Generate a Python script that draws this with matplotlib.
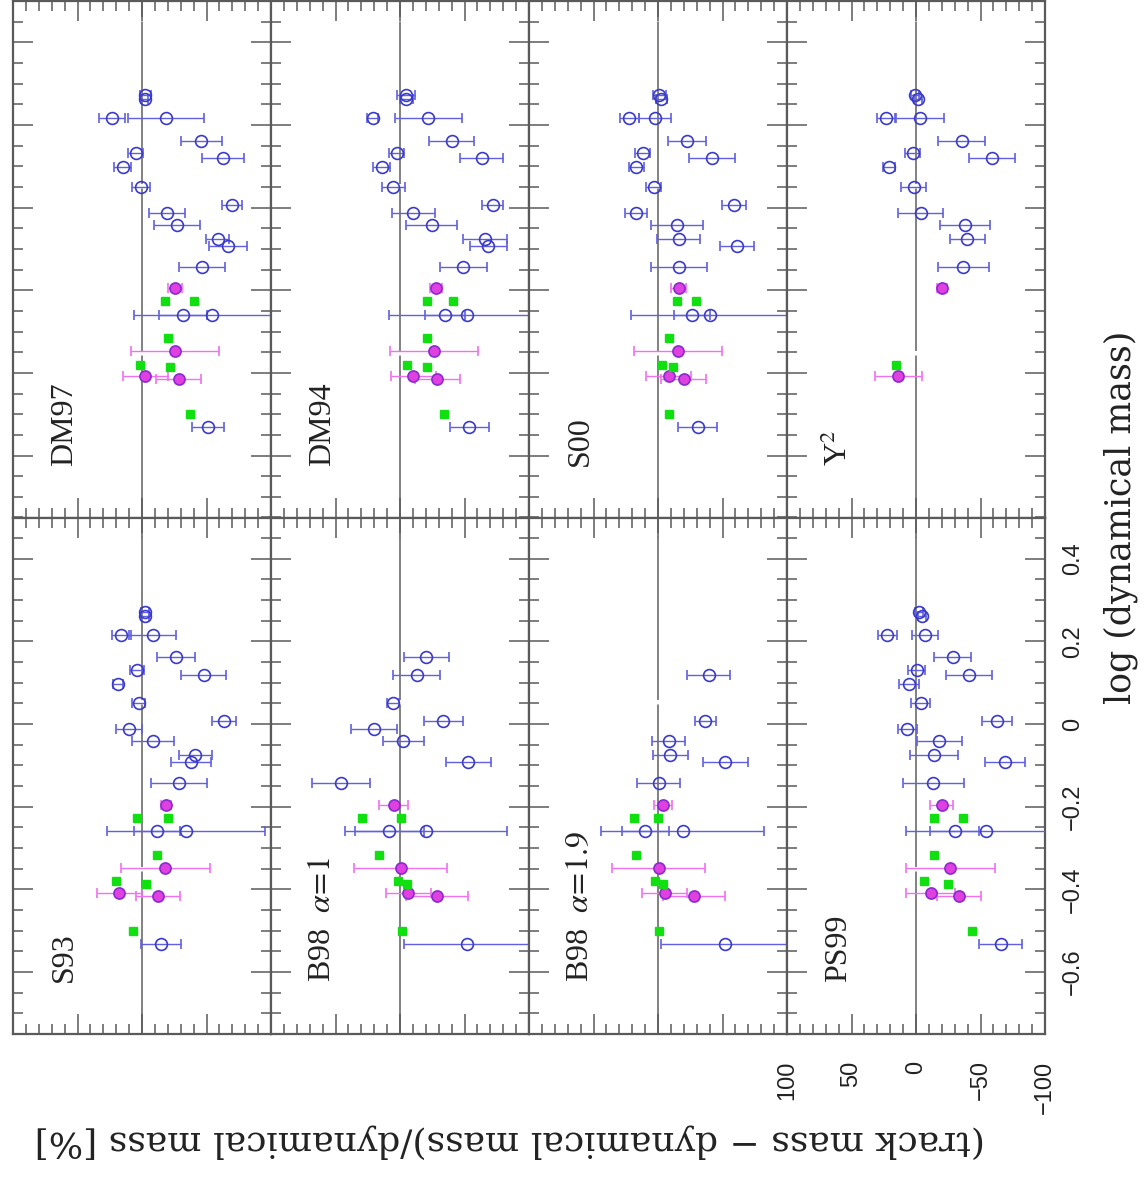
import numpy as np
import matplotlib
matplotlib.use("Agg")
import matplotlib.pyplot as plt
from matplotlib.ticker import MultipleLocator, FixedLocator, FuncFormatter

nan = np.nan

# log(dynamical mass) of the stars, shared by every panel
logm_blue = [0.272, 0.262, 0.216, 0.216, 0.162, 0.131, 0.120, 0.098, 0.050, 0.007,
             -0.013, -0.041, -0.075, -0.092, -0.143, -0.259, -0.259, -0.532]
logm_mag = [-0.195, -0.348, -0.408, -0.415]
logm_green = [-0.227, -0.227, -0.316, -0.380, -0.386, -0.500]

# (track - dynamical)/dynamical mass [%] per model
s93_blue = [-2.6, -2.6, 16.0, -8.3, -26.4, 3.9, -47.8, 18.6, 2.6, -63.3, 10.3, -8.3, -41.3, -38.2, -28.4, -11.6, -34.1, -14.7]
s93_blue_err = [3, 3, 7.1, 18.1, 14.6, 5.6, 17.4, 4, 5.2, 9.4, 10, 16.4, 13, 15.4, 21.6, 18.1, 61.4, 15.5]
s93_mag = [-18.6, -18.1, 17.6, -12.4]
s93_mag_err = [4, 34.5, 17.4, 17.4]
s93_green = [3.9, -20.2, -11.6, 20.2, -3.1, 7.2]

b98a_blue = [nan, nan, nan, nan, -20.2, nan, -12.9, nan, 5.2, -33.6, 20.2, -2.6, nan, -53.0, 46.0, 8.3, -20.2, -51.7]
b98a_blue_err = [nan, nan, nan, nan, 17.4, nan, 18.4, nan, 4.7, 15.2, 17.7, 15.8, nan, 17.3, 22.4, 26.6, 62.7, 48.6]
b98a_mag = [4.7, -0.5, -6.5, -28.4]
b98a_mag_err = [11.2, 35.8, 17.3, 24]
b98a_green = [29.7, -0.5, 16.0, 1.3, -5.7, -1.3]

b98b_blue = [nan, nan, nan, nan, nan, nan, -39.3, nan, nan, -36.7, nan, -8.3, -9.6, -52.2, -0.5, 9.8, -19.1, -51.7]
b98b_blue_err = [nan, nan, nan, nan, nan, nan, 16.8, nan, nan, 8.4, nan, 12.9, 13.3, 17.6, 16.8, 18.1, 63.2, 49]
b98b_mag = [-3.6, -0.5, -5.2, -28.2]
b98b_mag_err = [7, 36.2, 17.6, 24]
b98b_green = [18.9, 0.3, 17.0, 2.0, -3.9, -0.5]

ps99_blue = [-2.6, -4.4, 22.2, -7.0, -28.4, -0.5, -41.3, 5.4, -3.6, -62.5, 6.7, -18.1, -14.0, -69.0, -13.4, -30.2, -54.3, -65.6]
ps99_blue_err = [3, 3, 7.6, 10.3, 14.5, 6.5, 17.7, 7.4, 7.4, 11.6, 7.5, 17.7, 18.7, 15.5, 23.8, 19, 62, 16.5]
ps99_mag = [-19.9, -26.4, -11.4, -33.3]
ps99_mag_err = [8.8, 34.5, 19, 17]
ps99_green = [-14.2, -36.7, -14.2, -6.5, -25.0, -43.2]

dm97_blue = [-2.6, -2.0, 23.3, -18.6, -46.0, 4.7, -62.8, 15.0, 0.5, -69.8, -19.4, -27.1, -58.7, -66.7, -46.5, -31.5, -54.3, -51.2]
dm97_blue_err = [4, 3, 10, 29.3, 16, 5.8, 16.4, 6.7, 7, 7.8, 13.8, 18, 9, 14.9, 18, 18.6, 60.7, 12.5]
dm97_mag = [-25.8, -25.3, -2.6, -28.4]
dm97_mag_err = [5.4, 34.1, 17.3, 17.2]
dm97_green = [-18.1, -40.0, -20.2, 1.3, -22.0, -37.5]

dm94_blue = [-4.7, -4.7, 21.2, -22.0, -40.0, 2.6, -63.3, 14.2, 5.2, -71.8, -10.3, -24.5, -65.9, -68.5, -49.1, -34.9, -52.2, -53.7]
dm94_blue_err = [7, 5, 4, 25.8, 17.3, 6, 16.8, 6.8, 9, 8, 16.8, 20, 16.8, 14.5, 18.3, 15.5, 61, 15.2]
dm94_mag = [-27.9, -26.4, -10.3, -28.9]
dm94_mag_err = [4.5, 34.2, 17.6, 17.6]
dm94_green = [-21.2, -41.3, -21.2, -5.7, -20.7, -34.1]

s00_blue = [-1.0, -2.6, 22.2, 2.6, -22.5, 11.9, -41.9, 17.0, 3.4, -59.2, 17.0, -14.7, -16.0, -61.2, -16.0, -26.4, -40.0, -30.7]
s00_blue_err = [5, 4, 7.5, 12.5, 14.5, 5.8, 18, 5.8, 6, 9.3, 8.4, 20.3, 16.7, 13.2, 21.6, 14.2, 61, 15.1]
s00_mag = [-16.0, -15.2, -8.3, -19.9]
s00_mag_err = [5.7, 34.1, 17.6, 17.3]
s00_green = [-14.7, -29.7, -8.3, -3.1, -11.4, -8.8]

y2_blue = [0.8, -1.8, 23.3, -3.1, -35.4, 2.6, -58.7, 20.7, 1.6, nan, -3.6, -38.0, -39.8, nan, -36.7, nan, nan, nan]
y2_blue_err = [3, 3, 7.1, 18.6, 18, 6, 17.7, 4.6, 9.7, nan, 17.6, 19.4, 13.6, nan, 20, nan, nan, nan]
y2_mag = [-20.4, nan, 13.7, nan]
y2_mag_err = [4, nan, 18.1, nan]
y2_green = [nan, nan, nan, 15.5, nan, nan]

# panel order: (row, col) in the rotated page
panels = [
    (0, 0, "DM97", dm97_blue, dm97_blue_err, dm97_mag, dm97_mag_err, dm97_green),
    (0, 1, "DM94", dm94_blue, dm94_blue_err, dm94_mag, dm94_mag_err, dm94_green),
    (0, 2, "S00", s00_blue, s00_blue_err, s00_mag, s00_mag_err, s00_green),
    (0, 3, "Y$^2$", y2_blue, y2_blue_err, y2_mag, y2_mag_err, y2_green),
    (1, 0, "S93", s93_blue, s93_blue_err, s93_mag, s93_mag_err, s93_green),
    (1, 1, r"B98  $\alpha\!=\!1$", b98a_blue, b98a_blue_err, b98a_mag, b98a_mag_err, b98a_green),
    (1, 2, r"B98  $\alpha\!=\!1.9$", b98b_blue, b98b_blue_err, b98b_mag, b98b_mag_err, b98b_green),
    (1, 3, "PS99", ps99_blue, ps99_blue_err, ps99_mag, ps99_mag_err, ps99_green),
]

plt.rcParams['mathtext.fontset'] = 'stix'

W, H = 1145, 1178
fig = plt.figure(figsize=(W / 100, H / 100), dpi=100, facecolor='white')

x_left = 13
col_w = 258
row_top = [1, 517.5]
row_h = 516.5

frame_col = '#5a5a5a'
blue = '#3a3acc'
blue_err = '#6060e0'
mag_face = '#e040e0'
mag_edge = '#8a2ad0'
mag_err = '#f070f0'
green = '#10e010'


def minus_fmt(v, p):
    return f"{v:g}".replace('-', '\u2212')


for row, col, label, bl, ble, mg, mge, gr in panels:
    x0 = x_left + col * col_w
    y1 = row_top[row] + row_h
    ax = fig.add_axes([x0 / W, (H - y1) / H, col_w / W, row_h / H])
    ax.set_xlim(100, -100)
    ax.set_ylim(-0.75, 0.5)

    # zero line, long dashes
    ax.axvline(0, color='#777777', lw=1.3, dashes=(90, 2.5), zorder=1)

    ax.errorbar(bl, logm_blue, xerr=ble, fmt='o', ms=8.5, mfc='none', mec=blue,
                mew=1.2, ecolor=blue_err, elinewidth=1.0, capsize=3.6, capthick=1.0,
                zorder=3)
    ax.errorbar(mg, logm_mag, xerr=mge, fmt='o', ms=8.0, mfc=mag_face, mec=mag_edge,
                mew=1.2, ecolor=mag_err, elinewidth=1.0, capsize=3.6, capthick=1.0,
                zorder=4)
    ax.plot(gr, logm_green, 's', ms=5.2, color=green, mec=green, zorder=5)

    ax.text(0.2, 0.1, label, rotation=90, ha='center', va='bottom',
            transform=ax.transAxes, fontsize=23, family='Liberation Serif',
            color='#222222')

    for s in ax.spines.values():
        s.set_color(frame_col)
        s.set_linewidth(1.6)

    ax.xaxis.set_major_locator(MultipleLocator(50))
    ax.xaxis.set_minor_locator(MultipleLocator(10))
    ax.yaxis.set_major_locator(FixedLocator([-0.6, -0.4, -0.2, 0.0, 0.2, 0.4]))
    ax.yaxis.set_minor_locator(MultipleLocator(0.05))
    ax.tick_params(which='both', direction='in', top=True, bottom=True,
                   left=True, right=True, color=frame_col,
                   labelbottom=False, labelleft=False)
    ax.tick_params(which='major', length=14.4, width=1.1)
    ax.tick_params(which='minor', length=7.2, width=1.1)

    if row == 1 and col == 3:
        ax.tick_params(labelbottom=True, labelright=True, labelsize=17,
                       labelcolor='#222222')
        ax.tick_params(axis='x', pad=19)
        ax.tick_params(axis='y', pad=12)
        ax.xaxis.set_major_formatter(FuncFormatter(minus_fmt))
        ax.yaxis.set_major_formatter(FuncFormatter(minus_fmt))
        for t in ax.get_xticklabels():
            t.set_rotation(90)
            t.set_family('Liberation Sans')
            t.set_ha('center')
            t.set_va('top')
        for t in ax.get_yticklabels():
            t.set_rotation(90)
            t.set_family('Liberation Sans')
            t.set_ha('left')
            t.set_va('center')

fig.text(1121 / W, 1 - 517 / H, "log (dynamical mass)", rotation=90,
         ha='center', va='center', fontsize=25, family='DejaVu Serif',
         color='#222222')
fig.text(510 / W, 1 - 1141 / H, "(track mass \u2212 dynamical mass)/dynamical mass [%]",
         rotation=180, ha='center', va='center', fontsize=26, family='DejaVu Serif',
         color='#222222')

fig.savefig('out.png', dpi=100, facecolor='white')
